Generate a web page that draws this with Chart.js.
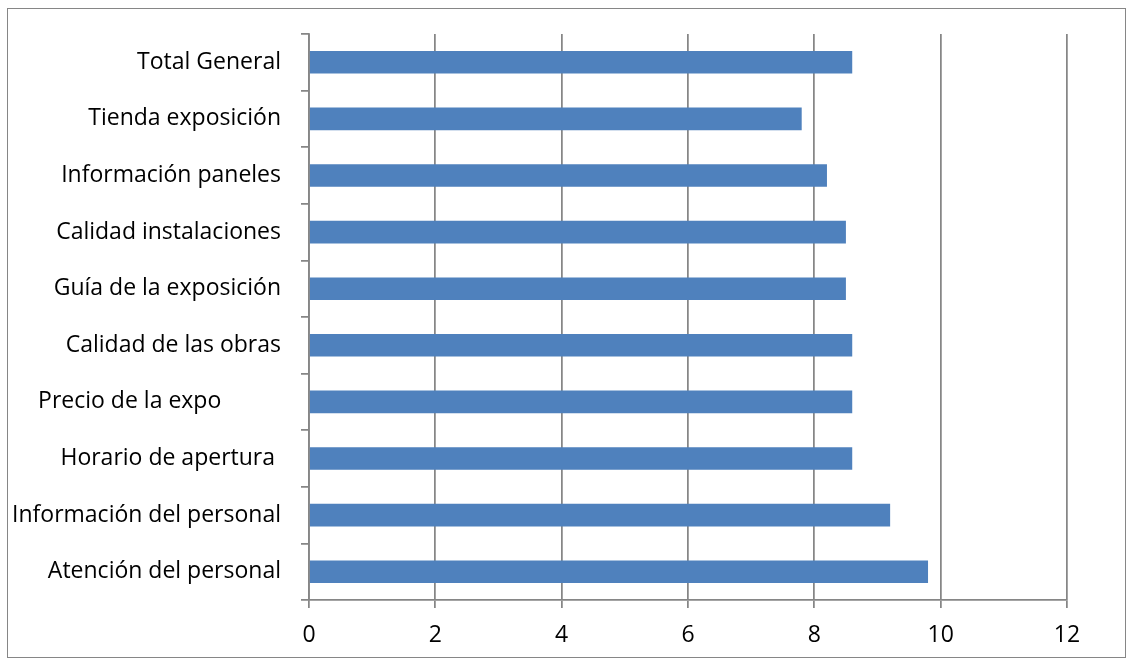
<!DOCTYPE html>
<html>
<head>
<meta charset="utf-8">
<script src="https://cdn.jsdelivr.net/npm/chart.js@4.4.0/dist/chart.umd.min.js"></script>
<style>
    body { margin: 0; background: #fff; }
    #wrap { position: relative; width: 1133px; height: 664px; }
    #frame {
        position: absolute; left: 7px; top: 8px;
        width: 1117px; height: 648px;
        border: 1px solid #868686;
        pointer-events: none;
    }
    #chart { position: absolute; left: 0; top: 0; }
</style>
</head>
<body>
<div id="wrap">
    <canvas id="chart" width="1133" height="664"></canvas>
    <div id="frame"></div>
</div>
<script>
// Chart data (top to bottom)
const categories = [
    'Total General',
    'Tienda exposición',
    'Información paneles',
    'Calidad instalaciones',
    'Guía de la exposición',
    'Calidad de las obras',
    'Precio de la expo          ',
    'Horario de apertura ',
    'Información del personal',
    'Atención del personal'
];
const scores = [8.6, 7.8, 8.2, 8.5, 8.5, 8.6, 8.6, 8.6, 9.2, 9.8];
const xTicks = [0, 2, 4, 6, 8, 10, 12];

const gridGrey = '#868686';
const labelFont = { family: "'Open Sans', sans-serif", size: 23 };

Chart.defaults.font.family = labelFont.family;
Chart.defaults.color = '#000';

const ctx = document.getElementById('chart').getContext('2d');
new Chart(ctx, {
    type: 'bar',
    data: {
        labels: categories,
        datasets: [{
            data: scores,
            backgroundColor: '#4F81BD',
            borderWidth: 0,
            barPercentage: 0.4,
            categoryPercentage: 1.0
        }]
    },
    options: {
        indexAxis: 'y',
        responsive: false,
        animation: false,
        layout: {
            padding: { left: 0, right: 66, top: 34, bottom: 0 }
        },
        plugins: {
            legend: { display: false },
            tooltip: { enabled: false }
        },
        scales: {
            x: {
                min: xTicks[0],
                max: xTicks[xTicks.length - 1],
                afterBuildTicks: (scale) => {
                    scale.ticks = xTicks.map(v => ({ value: v }));
                },
                afterFit: (scale) => { scale.height = 64; },
                grid: {
                    color: gridGrey,
                    lineWidth: 1.75,
                    tickLength: 8,
                    drawTicks: true
                },
                border: { color: gridGrey, width: 1.75 },
                ticks: {
                    color: '#000',
                    font: labelFont,
                    padding: 14
                }
            },
            y: {
                afterFit: (scale) => { scale.width = 309; },
                grid: {
                    offset: true,
                    drawOnChartArea: false,
                    color: gridGrey,
                    lineWidth: 1.75,
                    tickLength: 8
                },
                border: { color: gridGrey, width: 1.75 },
                ticks: {
                    color: '#000',
                    font: labelFont,
                    padding: 20
                }
            }
        }
    }
});
</script>
</body>
</html>
